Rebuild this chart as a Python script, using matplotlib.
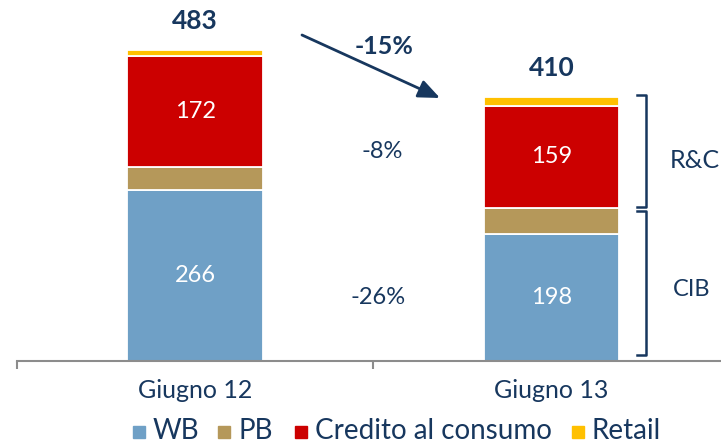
import matplotlib
matplotlib.use("Agg")
import matplotlib.pyplot as plt
from matplotlib.patches import Rectangle
from matplotlib.lines import Line2D

# ---- data ----
categories = ["Giugno 12", "Giugno 13"]
series_names = ["WB", "PB", "Credito al consumo", "Retail"]
wb = [266, 198]
pb = [36, 40]
credito = [172, 159]
retail = [9, 13]
totals = [483, 410]
changes_total = "-15%"
change_rc = "-8%"
change_cib = "-26%"
group_labels = ["R&C", "CIB"]

colors = ["#6FA0C6", "#B5985A", "#CC0000", "#FFC000"]
navy = "#17375E"
FONT = ["Lato", "DejaVu Sans"]
plt.rcParams["font.family"] = FONT

W, H = 721, 443
fig = plt.figure(figsize=(W / 100, H / 100), dpi=100)
base_px = 361
ax = fig.add_axes([17 / W, (H - base_px) / H, 712.5 / W, base_px / H])
ax.set_xlim(-0.5, 1.5)
ax.set_ylim(0, base_px / 0.643)

x = list(range(len(categories)))
bw = 0.38
series = [wb, pb, credito, retail]
bottom = [0, 0]
for vals, col in zip(series, colors):
    ax.bar(x, vals, bw, bottom=bottom, color=col, edgecolor="white", linewidth=1.3, zorder=2)
    bottom = [b + v for b, v in zip(bottom, vals)]

# inner labels
for i in x:
    ax.text(i, wb[i] / 2, str(wb[i]), ha="center", va="center", color="white", fontsize=17)
    yc = wb[i] + pb[i] + credito[i] / 2
    ax.text(i, yc, str(credito[i]), ha="center", va="center", color="white", fontsize=17)
    ax.annotate(str(totals[i]), (i, bottom[i]), xytext=(0, 21), textcoords="offset points",
                ha="center", va="center", color=navy, fontsize=19, fontweight="bold")

# axes styling
for s in ["top", "right", "left"]:
    ax.spines[s].set_visible(False)
ax.spines["bottom"].set_color("#8C8C8C")
ax.spines["bottom"].set_linewidth(1.5)
ax.set_yticks([])
ax.set_xticks(x)
ax.set_xticklabels(categories, fontsize=18, color=navy)
ax.tick_params(axis="x", which="major", length=0, pad=13)
ax.set_xticks([-0.5, 0.5, 1.5], minor=True)
ax.tick_params(axis="x", which="minor", length=6, width=1.5, color="#8C8C8C")

# change labels
fp = "figure pixels"
def fpx(px, py):
    return (px, H - py)

ax.annotate("", xy=fpx(440, 98), xytext=fpx(302, 35), xycoords=fp, textcoords=fp,
            arrowprops=dict(arrowstyle="-|>,head_length=1.3,head_width=0.55", color=navy, lw=2,
                            shrinkA=0, shrinkB=0))
fig.text(384 / W, 1 - 47 / H, changes_total, ha="center", va="center", color=navy,
         fontsize=18, fontweight="bold")
fig.text(382 / W, 1 - 152 / H, change_rc, ha="center", va="center", color=navy, fontsize=17)
fig.text(378 / W, 1 - 297 / H, change_cib, ha="center", va="center", color=navy, fontsize=17)

# braces
def bracket(y0, y1):
    xs = [637, 646, 646, 637]
    ys = [y0, y0, y1, y1]
    fig.add_artist(Line2D([v / W for v in xs], [1 - v / H for v in ys], color=navy, lw=1.8,
                          transform=fig.transFigure))
bracket(95, 207)
bracket(211, 355)
fig.text(695 / W, 1 - 161 / H, group_labels[0], ha="center", va="center", color=navy, fontsize=18)
fig.text(692 / W, 1 - 290 / H, group_labels[1], ha="center", va="center", color=navy, fontsize=17)

# legend (manual)
leg_text_x = [153, 238, 315, 592]
leg_y = 432
sq = 12
for name, col, tx in zip(series_names, colors, leg_text_x):
    fig.add_artist(Rectangle(((tx - 20) / W, 1 - (leg_y + sq / 2) / H), sq / W, sq / H,
                             transform=fig.transFigure, color=col))
    fig.text(tx / W, 1 - (leg_y - 1) / H, name, ha="left", va="center",
             color=navy, fontsize=20)

fig.savefig("out.png", dpi=100)
